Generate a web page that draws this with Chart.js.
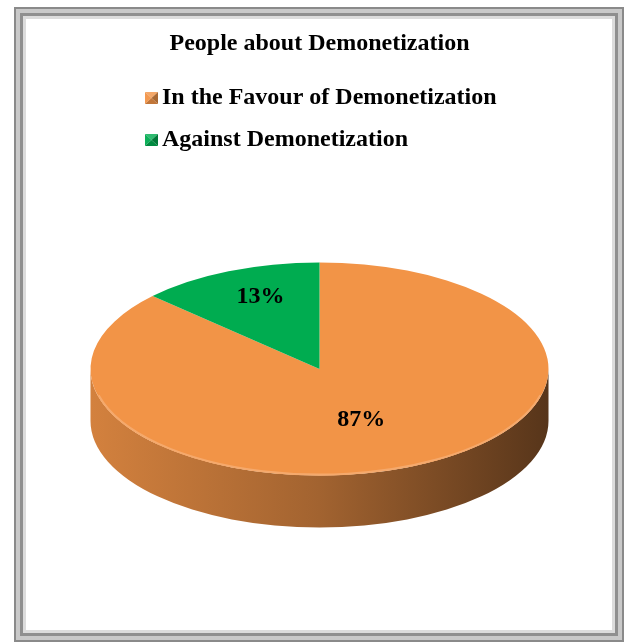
<!DOCTYPE html>
<html>
<head>
<meta charset="utf-8">
<script src="https://cdn.jsdelivr.net/npm/chart.js@4.4.1/dist/chart.umd.min.js"></script>
<style>
  html, body { margin: 0; padding: 0; background: #fff; }
  body { width: 630px; height: 643px; position: relative; overflow: hidden; }
  .frame { position: absolute; left: 14px; top: 7px; width: 610px; height: 635px; box-sizing: border-box; border: 2px solid #8a8a8a; }
  .frame .b1 { position: absolute; inset: 0; border: 4px solid #c9c9c9; }
  .frame .b2 { position: absolute; inset: 4px; border: 3px solid #8f8f8f; }
  .frame .b3 { position: absolute; inset: 7px; border: 3px solid #dcdcdc; }
  #chart { position: absolute; left: 0; top: 0; }
</style>
</head>
<body>
<div class="frame"><div class="b1"></div><div class="b2"></div><div class="b3"></div></div>
<canvas id="chart" width="630" height="643"></canvas>
<script>
const title = "People about Demonetization";
const labels = ["In the Favour of Demonetization", "Against Demonetization"];
const shares = [87, 13];
const colors = ["#F29447", "#00AC50"];

const SERIF = "'Liberation Serif', 'Times New Roman', serif";
const TILT = 0.465;   // vertical squash of the pie top
const DEPTH = 52;     // thickness of the disc

function mix(hex, target, t) {
  const n = parseInt(hex.slice(1), 16);
  const c = [(n >> 16) & 255, (n >> 8) & 255, n & 255];
  return "rgb(" + c.map(v => Math.round(v + (target - v) * t)).join(",") + ")";
}
const darken = (hex, t) => mix(hex, 0, t);
const lighten = (hex, t) => mix(hex, 255, t);

// tilted 3D disc: side walls first, then squash the arcs Chart.js draws
const pie3d = {
  id: "pie3d",
  beforeDatasetsDraw(chart) {
    const { ctx } = chart;
    const arcs = chart.getDatasetMeta(0).data;
    const { x: cx, y: cy, outerRadius: r } = arcs[0];
    const ry = r * TILT;
    arcs.forEach((arc, i) => {
      const base = colors[i];
      for (const shift of [-2 * Math.PI, 0, 2 * Math.PI]) {
        const a = Math.max(arc.startAngle + shift, 0);
        const b = Math.min(arc.endAngle + shift, Math.PI);
        if (b <= a) continue;
        const g = ctx.createLinearGradient(cx - r, 0, cx + r, 0);
        g.addColorStop(0, darken(base, 0.13));
        g.addColorStop(0.5, darken(base, 0.33));
        g.addColorStop(1, darken(base, 0.64));
        ctx.beginPath();
        ctx.ellipse(cx, cy, r, ry, 0, a, b);
        ctx.ellipse(cx, cy + DEPTH, r, ry, 0, b, a, true);
        ctx.closePath();
        ctx.fillStyle = g;
        ctx.fill();
      }
    });
    ctx.save();
    ctx.translate(0, cy);
    ctx.scale(1, TILT);
    ctx.translate(0, -cy);
  },
  afterDatasetsDraw(chart) {
    const { ctx } = chart;
    ctx.restore();
    const arcs = chart.getDatasetMeta(0).data;
    const { x: cx, y: cy, outerRadius: r } = arcs[0];
    const ry = r * TILT;

    // soft bevel along the front rim
    ctx.save();
    ctx.beginPath();
    ctx.ellipse(cx, cy, r - 1, ry - 1, 0, 0.08 * Math.PI, 0.92 * Math.PI);
    ctx.strokeStyle = lighten(colors[0], 0.2);
    ctx.lineWidth = 2;
    ctx.stroke();
    ctx.restore();

    // percentage labels, small slices pushed further out
    const total = shares.reduce((s, v) => s + v, 0);
    ctx.save();
    ctx.font = "bold 24px " + SERIF;
    ctx.fillStyle = "#000";
    ctx.textAlign = "center";
    ctx.textBaseline = "middle";
    arcs.forEach((arc, i) => {
      const mid = (arc.startAngle + arc.endAngle) / 2;
      const small = shares[i] / total < 0.2;
      const fx = small ? 0.65 : 0.46;
      const fy = small ? 0.74 : 0.52;
      const x = cx + Math.cos(mid) * r * fx;
      const y = cy + Math.sin(mid) * ry * fy;
      ctx.fillText(Math.round(shares[i] / total * 100) + "%", x, y);
    });
    ctx.restore();
  },
  afterDraw(chart) {
    // legend: bevelled squares, left aligned
    const { ctx } = chart;
    const x0 = 145, y0 = 98, gap = 42, w = 13, h = 12;
    ctx.save();
    labels.forEach((label, i) => {
      const c = colors[i];
      const top = y0 + i * gap - h / 2;
      const mx = x0 + w / 2, my = top + h / 2;
      const tri = (pts, fill) => {
        ctx.beginPath();
        ctx.moveTo(mx, my);
        pts.forEach(p => ctx.lineTo(p[0], p[1]));
        ctx.closePath();
        ctx.fillStyle = fill;
        ctx.fill();
      };
      tri([[x0, top], [x0 + w, top]], lighten(c, 0.18));
      tri([[x0, top], [x0, top + h]], lighten(c, 0.05));
      tri([[x0 + w, top], [x0 + w, top + h]], darken(c, 0.3));
      tri([[x0, top + h], [x0 + w, top + h]], darken(c, 0.2));
      ctx.font = "bold 24px " + SERIF;
      ctx.fillStyle = "#000";
      ctx.textAlign = "left";
      ctx.textBaseline = "middle";
      ctx.fillText(label, x0 + 17, y0 + i * gap);
    });
    ctx.restore();
  }
};

new Chart(document.getElementById("chart"), {
  type: "pie",
  data: {
    labels: labels,
    datasets: [{
      data: shares,
      backgroundColor: colors,
      borderWidth: 0
    }]
  },
  options: {
    responsive: false,
    animation: false,
    layout: { padding: { left: 90, right: 81, top: 0, bottom: 45 } },
    plugins: {
      legend: { display: false },
      tooltip: { enabled: false },
      title: {
        display: true,
        text: title,
        color: "#000",
        font: { family: SERIF, size: 24, weight: "bold", lineHeight: 1.2 },
        padding: { top: 29.5, bottom: 81.7 }
      }
    }
  },
  plugins: [pie3d]
});
</script>
</body>
</html>
